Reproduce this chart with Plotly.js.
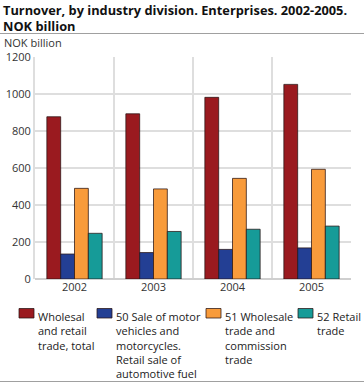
<!DOCTYPE html>
<html><head><meta charset="utf-8">
<script src="https://cdn.plot.ly/plotly-3.0.1.min.js"></script>
<style>html,body{margin:0;padding:0;background:#fff}#c{width:364px;height:383px}</style>
</head><body><div id="c"></div>
<script>
var years = ['2002','2003','2004','2005'];
var seriesNames = ['Wholesal<br>and retail<br>trade, total',
  '50 Sale of motor<br>vehicles and<br>motorcycles.<br>Retail sale of<br>automotive fuel',
  '51 Wholesale<br>trade and<br>commission<br>trade',
  '52 Retail<br>trade'];
var total = [877, 893, 982, 1052];
var motor = [135, 143, 160, 168];
var wholesale = [490, 487, 544, 593];
var retail = [247, 257, 269, 286];
var colors = ['#9a1a1f', '#233f94', '#f89b3b', '#169b98'];
var yTicks = [0, 200, 400, 600, 800, 1000, 1200];
var titleLines = ['Turnover, by industry division. Enterprises. 2002-2005.', 'NOK billion'];

var W = 364, H = 383, L = 35, R = 13, T = 57, B = 104;
var pw = W - L - R, ph = H - T - B;
function px(x){ return (x - L) / pw; }
function py(y){ return (H - B - y) / ph; }

var values = [total, motor, wholesale, retail];
var traces = values.map(function(v, i){
  return {type:'bar', x: years, y: v, name: seriesNames[i],
    marker:{color: colors[i], line:{color:'rgba(40,20,20,0.75)', width:1}},
    hoverinfo:'x+y', showlegend:false};
});

var legX = [19, 97, 206, 298];
var shapes = [
  {type:'line', xref:'paper', yref:'paper', x0:px(0), x1:px(W), y0:py(33.5), y1:py(33.5), line:{color:'#a0a0a0', width:1}},
  {type:'line', xref:'paper', yref:'paper', x0:px(0), x1:px(W), y0:py(381.5), y1:py(381.5), line:{color:'#a0a0a0', width:1}}
];
var annotations = [
  {text:'NOK billion', xref:'paper', yref:'paper', x:px(2), y:py(42.5), xanchor:'left', yanchor:'middle', showarrow:false, font:{family:'Open Sans, sans-serif', size:11, color:'#333'}}
];
titleLines.forEach(function(t, i){
  annotations.push({text:t, xref:'paper', yref:'paper', x:px(1), y:py(10 + 16 * i), xanchor:'left', yanchor:'middle', align:'left', showarrow:false,
    font:{family:'Open Sans, sans-serif', size:12.8, color:'#111', weight:'bold'}});
});
legX.forEach(function(x, i){
  shapes.push({type:'rect', xref:'paper', yref:'paper', x0:px(x), x1:px(x+15), y0:py(308.5), y1:py(318),
    fillcolor: colors[i], line:{color:'rgba(40,20,20,0.75)', width:1}});
  annotations.push({text: seriesNames[i], xref:'paper', yref:'paper', x:px(x+17), y:py(307), xanchor:'left', yanchor:'top', align:'left',
    showarrow:false, font:{family:'Open Sans, sans-serif', size:11, color:'#222'}});
});

var layout = {
  width: W, height: H,
  margin:{l:L, r:R, t:T, b:B, pad:0},
  paper_bgcolor:'#fff', plot_bgcolor:'#fff',
  bargap:0.3, bargroupgap:0, barmode:'group',
  xaxis:{type:'category', tickson:'boundaries', showgrid:true, gridcolor:'#dedede', gridwidth:2, ticks:'', showline:false,
    tickfont:{family:'Open Sans, sans-serif', size:11, color:'#333'}, fixedrange:true},
  yaxis:{range:[0,1200], tickvals:yTicks, ticktext:yTicks.map(String), showgrid:true, gridcolor:'#dedede', gridwidth:2,
    zeroline:true, zerolinecolor:'#cfcfcf', zerolinewidth:2, showline:true, linecolor:'#dedede', linewidth:2, ticks:'', ticklen:0,
    tickfont:{family:'Open Sans, sans-serif', size:11, color:'#333'}, fixedrange:true},
  shapes: shapes,
  annotations: annotations
};
Plotly.newPlot('c', traces, layout, {displayModeBar:false, staticPlot:true});
</script>
</body></html>
